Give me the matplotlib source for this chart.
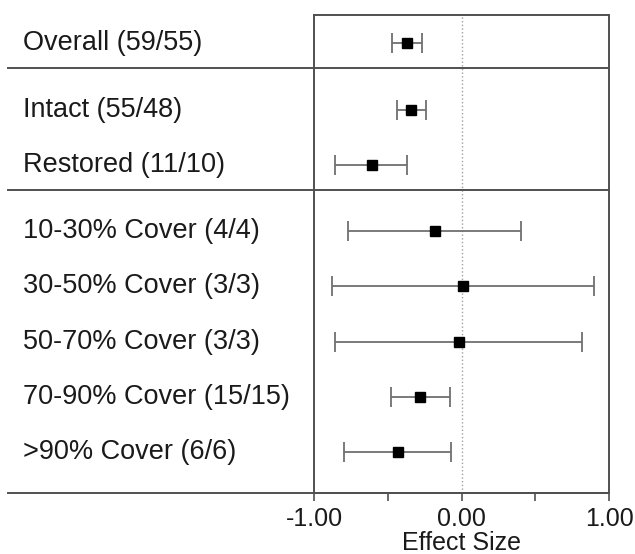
import matplotlib
matplotlib.use("Agg")
import matplotlib.pyplot as plt
import numpy as np

plt.rcParams['font.family'] = ['Liberation Sans', 'DejaVu Sans']

# forest plot data (effect size with 95% CI)
labels = ['Overall (59/55)',
          'Intact (55/48)', 'Restored (11/10)',
          '10-30% Cover (4/4)', '30-50% Cover (3/3)', '50-70% Cover (3/3)',
          '70-90% Cover (15/15)', '>90% Cover (6/6)']
effect = [-0.37, -0.34, -0.61, -0.18, 0.01, -0.02, -0.28, -0.43]
ci_low = [-0.47, -0.44, -0.86, -0.77, -0.88, -0.86, -0.48, -0.80]
ci_high = [-0.27, -0.24, -0.37, 0.40, 0.90, 0.82, -0.08, -0.07]
group_sizes = [1, 2, 5]

# row positions: step 1 inside a group, small extra gap between groups
ypos = []
separators = []
y = 0.0
for g, n in enumerate(group_sizes):
    for i in range(n):
        ypos.append(y)
        y += 1
    if g < len(group_sizes) - 1:
        separators.append(ypos[-1] + 0.45)
        y += 0.2
ypos = np.array(ypos)

line_col = '#505050'
text_col = '#1a1a1a'

fig = plt.figure(figsize=(6.35, 5.54), dpi=100)
ax = fig.add_axes([0.4945, 0.1101, 0.4646, 0.8634])

ax.axvline(0, color='#a0a0a0', lw=1.0, ls=':', zorder=1)

err = [np.array(effect) - np.array(ci_low), np.array(ci_high) - np.array(effect)]
ax.errorbar(effect, ypos, xerr=err, fmt='s', color='black', ms=6.5,
            ecolor='#707070', elinewidth=1.3, capsize=7.5, capthick=1.3, zorder=3)

for s in separators:
    ax.axhline(s, xmin=-1.037, xmax=1, color=line_col, lw=1.4, clip_on=False)
ax.axhline(8.14, xmin=-1.037, xmax=1, color=line_col, lw=1.4, clip_on=False)

for lab, yy in zip(labels, ypos):
    ax.text(-0.986, yy, lab, transform=ax.get_yaxis_transform(), ha='left',
            va='center', fontsize=19.5, color=text_col)

ax.set_xlim(-1, 1)
ax.set_ylim(8.14, -0.52)
ax.set_yticks([])
ax.set_xticks([-1, -0.5, 0, 0.5, 1])
ax.set_xticklabels(['-1.00', '', '0.00', '', '1.00'])
ax.tick_params(axis='x', direction='out', length=6, width=1.2, color=line_col,
               labelsize=18, labelcolor=text_col, pad=4)
ax.set_xlabel('Effect Size', fontsize=18, color=text_col, labelpad=0)

for side in ['left', 'right', 'top', 'bottom']:
    ax.spines[side].set_color(line_col)
    ax.spines[side].set_linewidth(1.4)

fig.savefig('out.png', dpi=100)
